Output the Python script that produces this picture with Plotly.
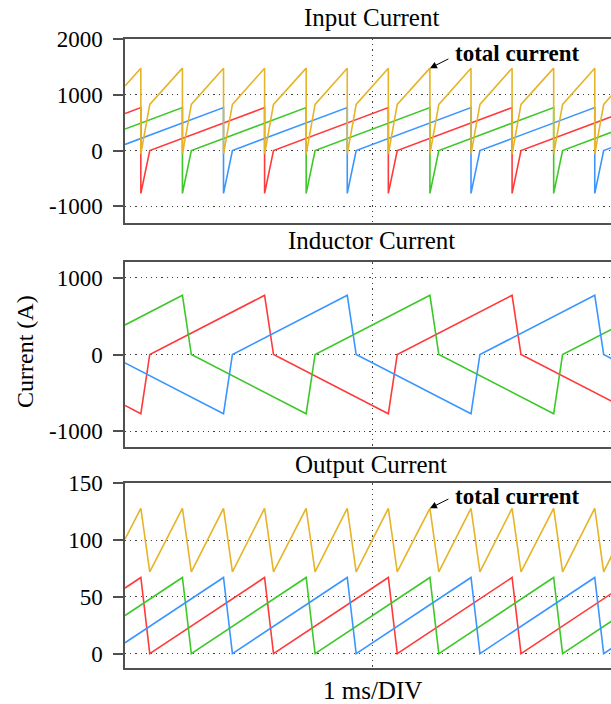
import plotly.graph_objects as go

# ---------------- data (time in ms, 1 ms/DIV) ----------------
# Input current, phase vertices
in_red_t = [0, 0.32, 0.32, 0.50, 2.82, 2.82, 3.00, 5.32, 5.32, 5.50, 7.82, 7.82, 8.00, 10.0]
in_red_v = [663, 770, -770, 0, 770, -770, 0, 770, -770, 0, 770, -770, 0, 664]
in_green_t = [0, 1.16, 1.16, 1.34, 3.66, 3.66, 3.84, 6.16, 6.16, 6.34, 8.66, 8.66, 8.84, 10.0]
in_green_v = [385, 770, -770, 0, 770, -770, 0, 770, -770, 0, 770, -770, 0, 385]
in_blue_t = [0, 1.99, 1.99, 2.17, 4.49, 4.49, 4.67, 6.99, 6.99, 7.17, 9.49, 9.49, 9.67, 10.0]
in_blue_v = [109, 770, -770, 0, 770, -770, 0, 770, -770, 0, 770, -770, 0, 110]
in_total_t = [0, 0.32, 0.32, 0.50, 1.16, 1.16, 1.34, 1.99, 1.99, 2.17, 2.82, 2.82, 3.00,
              3.66, 3.66, 3.84, 4.49, 4.49, 4.67, 5.32, 5.32, 5.50, 6.16, 6.16, 6.34,
              6.99, 6.99, 7.17, 7.82, 7.82, 8.00, 8.66, 8.66, 8.84, 9.49, 9.49, 9.67, 10.0]
in_total_v = [1157, 1477, -63, 826, 1477, -63, 826, 1477, -63, 826, 1477, -63, 826,
              1477, -63, 826, 1477, -63, 826, 1477, -63, 826, 1477, -63, 826,
              1477, -63, 826, 1477, -63, 826, 1477, -63, 826, 1477, -63, 826, 1158]

# Inductor current
ind_red_t = [0, 0.32, 0.50, 2.82, 3.00, 5.32, 5.50, 7.82, 8.00, 10.0]
ind_red_v = [-663, -770, 0, 770, 0, -770, 0, 770, 0, -664]
ind_green_t = [0, 1.16, 1.34, 3.66, 3.84, 6.16, 6.34, 8.66, 8.84, 10.0]
ind_green_v = [385, 770, 0, -770, 0, 770, 0, -770, 0, 385]
ind_blue_t = [0, 1.99, 2.17, 4.49, 4.67, 6.99, 7.17, 9.49, 9.67, 10.0]
ind_blue_v = [-109, -770, 0, 770, 0, -770, 0, 770, 0, -110]

# Output current
out_red_t = [0, 0.32, 0.50, 2.82, 3.00, 5.32, 5.50, 7.82, 8.00, 10.0]
out_red_v = [57.7, 67, 0, 67, 0, 67, 0, 67, 0, 57.8]
out_green_t = [0, 1.16, 1.34, 3.66, 3.84, 6.16, 6.34, 8.66, 8.84, 10.0]
out_green_v = [33.5, 67, 0, 67, 0, 67, 0, 67, 0, 33.5]
out_blue_t = [0, 1.99, 2.17, 4.49, 4.67, 6.99, 7.17, 9.49, 9.67, 10.0]
out_blue_v = [9.5, 67, 0, 67, 0, 67, 0, 67, 0, 9.5]
out_total_t = [0, 0.32, 0.50, 1.16, 1.34, 1.99, 2.17, 2.82, 3.00, 3.66, 3.84, 4.49, 4.67,
               5.32, 5.50, 6.16, 6.34, 6.99, 7.17, 7.82, 8.00, 8.66, 8.84, 9.49, 9.67, 10.0]
out_total_v = [100.7, 128, 72, 128, 72, 128, 72, 128, 72, 128, 72, 128, 72,
               128, 72, 128, 72, 128, 72, 128, 72, 128, 72, 128, 72, 100.8]

# Axis ticks
y1_ticks = [2000, 1000, 0, -1000]
y1_text = ["2000", "1000", "0", "-1000"]
y2_ticks = [1000, 0, -1000]
y2_text = ["1000", "0", "-1000"]
y3_ticks = [150, 100, 50, 0]
y3_text = ["150", "100", "50", "0"]

panel_titles = ["Input Current", "Inductor Current", "Output Current"]
x_label = "1 ms/DIV"
y_label = "Current (A)"
note = "total current"

# ---------------- styling ----------------
RED = "#FF3A3A"
GREEN = "#3CC828"
BLUE = "#3A96FF"
GOLD = "#E6B428"
FONT = "Liberation Serif"
W, H = 620, 704   # the 611-px window crops the right edge, as in the reference
LW = 1.6


def px(x):
    return x / W


def py(y):
    return 1 - y / H


fig = go.Figure()

def add(t, v, color, ax):
    fig.add_trace(go.Scatter(x=t, y=v, mode="lines", line=dict(color=color, width=LW),
                             xaxis="x" if ax == 1 else f"x{ax}",
                             yaxis="y" if ax == 1 else f"y{ax}",
                             showlegend=False, hoverinfo="skip"))

add(in_red_t, in_red_v, RED, 1)
add(in_green_t, in_green_v, GREEN, 1)
add(in_blue_t, in_blue_v, BLUE, 1)
add(in_total_t, in_total_v, GOLD, 1)

add(ind_red_t, ind_red_v, RED, 2)
add(ind_green_t, ind_green_v, GREEN, 2)
add(ind_blue_t, ind_blue_v, BLUE, 2)

add(out_red_t, out_red_v, RED, 3)
add(out_green_t, out_green_v, GREEN, 3)
add(out_blue_t, out_blue_v, BLUE, 3)
add(out_total_t, out_total_v, GOLD, 3)

x_dom = [px(125), 1.0]
y_doms = [[py(223), py(39)], [py(446.7), py(262.3)], [py(668.3), py(483.3)]]
y_ranges = [[-1300, 2000], [-1200, 1200], [-13, 150]]
y_tv = [y1_ticks, y2_ticks, y3_ticks]
y_tt = [y1_text, y2_text, y3_text]

AXC = "#505050"
GRIDC = "#404040"
DASH = "1.2px,4px"
layout = dict(
    template="none",
    width=W, height=H, autosize=False,
    margin=dict(l=0, r=0, t=0, b=0, pad=0),
    paper_bgcolor="white", plot_bgcolor="white",
    font=dict(family=FONT, size=22, color="black"),
)
for i in range(3):
    xs = "xaxis" if i == 0 else f"xaxis{i+1}"
    ys = "yaxis" if i == 0 else f"yaxis{i+1}"
    layout[xs] = dict(domain=x_dom, range=[0, 10], anchor="y" if i == 0 else f"y{i+1}",
                      showline=True, linecolor=AXC, linewidth=1.5, mirror=True,
                      tickvals=[5], showticklabels=False, ticks="",
                      showgrid=True, gridcolor=GRIDC, griddash=DASH, gridwidth=1.2,
                      zeroline=False, fixedrange=True, automargin=False)
    layout[ys] = dict(domain=y_doms[i], range=y_ranges[i], anchor="x" if i == 0 else f"x{i+1}",
                      showline=True, linecolor=AXC, linewidth=1.5, mirror=False,
                      tickvals=y_tv[i], ticktext=y_tt[i], ticks="outside", ticklen=10,
                      tickcolor=AXC, tickwidth=1.5, ticklabelstandoff=6,
                      tickfont=dict(family=FONT, size=23, color="black"),
                      showgrid=True, gridcolor=GRIDC, griddash=DASH, gridwidth=1.2,
                      zeroline=False, fixedrange=True, automargin=False)
fig.update_layout(**layout)

ann = []
for title, yc in zip(panel_titles, [18, 241, 464]):
    ann.append(dict(text=title, x=px(371), y=py(yc), xref="paper", yref="paper",
                    xanchor="center", yanchor="middle", showarrow=False,
                    font=dict(family=FONT, size=25, color="black")))
ann.append(dict(text=x_label, x=px(372), y=py(690), xref="paper", yref="paper",
                xanchor="center", yanchor="middle", showarrow=False,
                font=dict(family=FONT, size=25, color="black")))
ann.append(dict(text=y_label, x=px(25), y=py(352), xref="paper", yref="paper",
                xanchor="center", yanchor="middle", showarrow=False, textangle=-90,
                font=dict(family=FONT, size=24, color="black")))
# total current notes
for xr, yr, tip_v, text_v in [("x", "y", 1477, 1737), ("x3", "y3", 128, 138.4)]:
    ann.append(dict(text="<b>%s</b>" % note, x=6.63, y=text_v, xref=xr, yref=yr,
                    xanchor="left", yanchor="middle", showarrow=False,
                    font=dict(family=FONT, size=23, color="black")))
    ann.append(dict(text="", x=6.16, y=tip_v, xref=xr, yref=yr, showarrow=True,
                    ax=20, ay=-10, arrowhead=2, arrowsize=1.4, arrowwidth=1,
                    arrowcolor="black", standoff=0))
fig.update_layout(annotations=ann)

fig.write_html("out.html", config={"displayModeBar": False},
               post_script="document.body.style.margin='0px';document.body.style.overflow='hidden';")
